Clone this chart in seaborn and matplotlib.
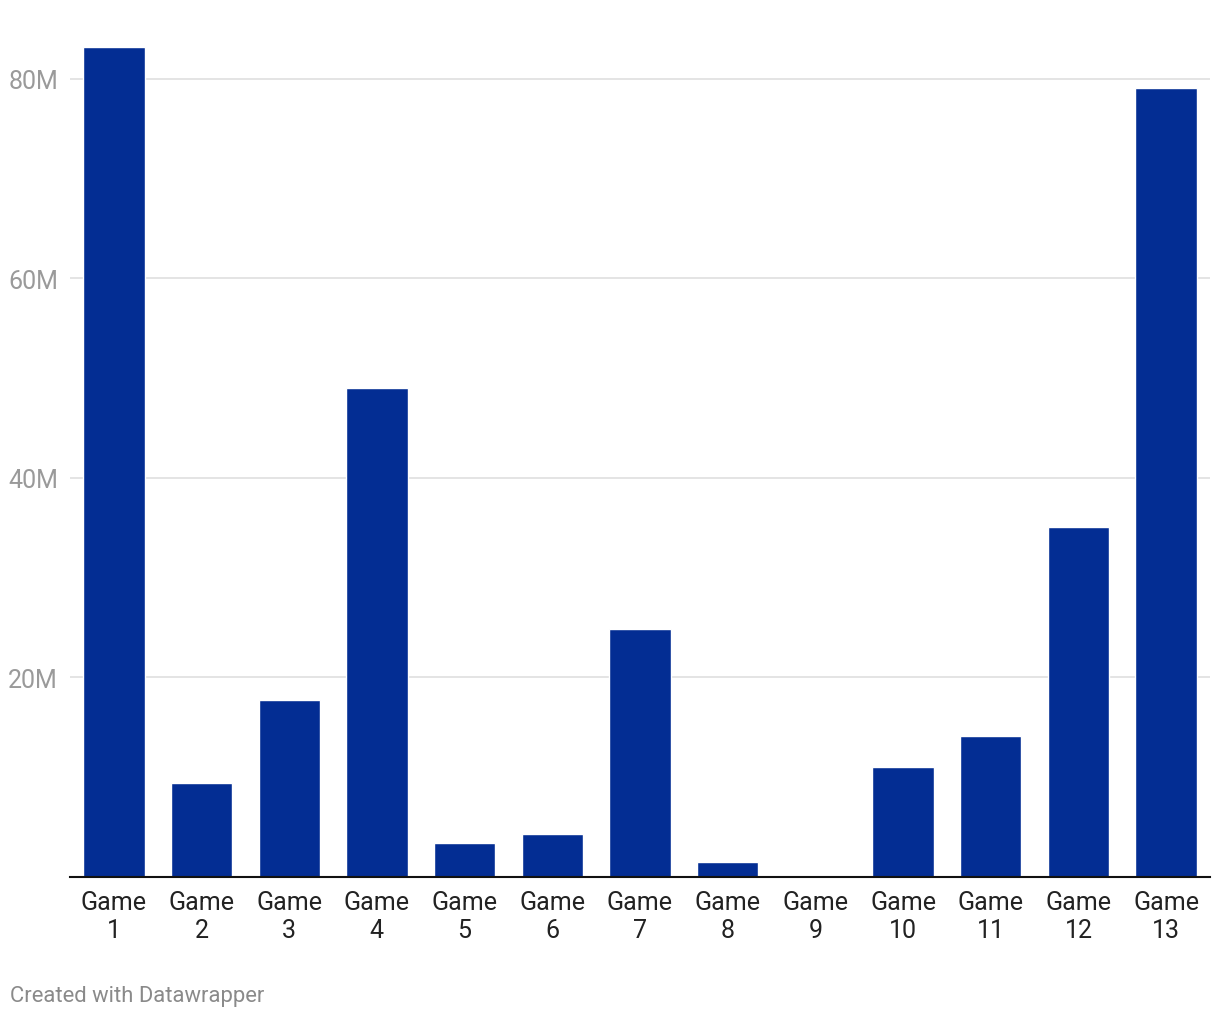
import matplotlib
matplotlib.use("Agg")
import matplotlib.pyplot as plt
import seaborn as sns
import pandas as pd
from matplotlib.ticker import FixedLocator

categories = ["Game\n1", "Game\n2", "Game\n3", "Game\n4", "Game\n5", "Game\n6", "Game\n7",
              "Game\n8", "Game\n9", "Game\n10", "Game\n11", "Game\n12", "Game\n13"]
values_m = [83.2, 9.4, 17.7, 49.0, 3.4, 4.3, 24.9, 1.5, 0.0, 11.0, 14.1, 35.1, 79.1]
ytick_values = [20, 40, 60, 80]
ytick_labels = ["20M", "40M", "60M", "80M"]

sns.set_theme(style="white")
plt.rcParams['font.family'] = ['Roboto', 'DejaVu Sans']

df = pd.DataFrame({"game": categories, "value": values_m})

fig = plt.figure(figsize=(12.2, 10.2), dpi=100)
ax = fig.add_axes([70/1220, 1 - 878/1020, (1210-70)/1220, (878-30)/1020])

sns.barplot(data=df, x="game", y="value", color="#032d93", width=0.7,
            saturation=1, ax=ax, zorder=3)

ax.set_xlim(-0.5, 12.5)
ax.set_ylim(0, 85)
ax.yaxis.set_major_locator(FixedLocator(ytick_values))
ax.set_yticklabels(ytick_labels)
ax.grid(axis="y", color="#e2e2e2", linewidth=1.3, zorder=0)
ax.set_axisbelow(True)
for s in ["top", "right", "left"]:
    ax.spines[s].set_visible(False)
ax.spines["bottom"].set_color("#111111")
ax.spines["bottom"].set_linewidth(1.5)
ax.spines["bottom"].set_zorder(5)

ax.tick_params(axis="y", length=0, pad=8.5, labelsize=18, labelcolor="#9a9a9a")
ax.tick_params(axis="x", length=0, pad=9, labelsize=18, labelcolor="#222222")
for lab in ax.get_xticklabels():
    lab.set_linespacing(1.22)
ax.set_xlabel("")
ax.set_ylabel("")

fig.text(10/1220, 1 - 997/1020, "Created with Datawrapper", fontsize=15.8,
         color="#8a8a8a", ha="left", va="center")

fig.savefig("out.png", dpi=100, facecolor="white")
